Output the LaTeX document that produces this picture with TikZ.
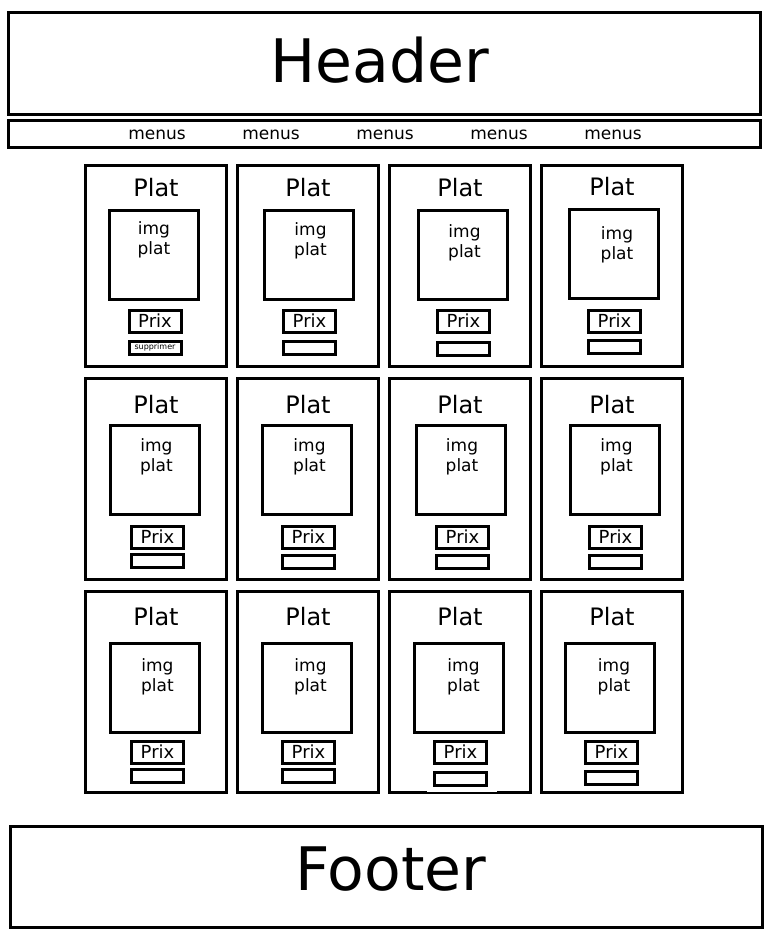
\documentclass[tikz,border=0pt]{standalone}
\usepackage{fontspec}
\setmainfont{DejaVu Sans}

\tikzstyle{every path} = [line width=3pt, black]
\tikzstyle{box} = [draw, line width=3pt, outer sep=0pt, inner sep=0pt, anchor=north west]
\tikzstyle{cardbox} = [box, minimum width=141pt, minimum height=201pt]
\tikzstyle{imgbox} = [box, minimum width=89pt, minimum height=89pt]
\tikzstyle{prixbox} = [box, minimum width=52pt, minimum height=22pt, font=\fontsize{18}{20}\selectfont]
\tikzstyle{btnbox} = [box, minimum width=52pt, minimum height=13.5pt]
\tikzstyle{txt} = [inner sep=0pt, anchor=base]
\tikzstyle{titletxt} = [txt, font=\fontsize{24}{28}\selectfont]
\tikzstyle{imgtxt} = [txt, font=\fontsize{17}{20}\selectfont]

\begin{document}
\begin{tikzpicture}[x=1pt, y=-1pt]
    \useasboundingbox (0,0) rectangle (768,950);

    % Header
    \node[box, minimum width=752pt, minimum height=101pt] (header) at (8,13) {};
    \node[txt, font=\fontsize{60}{72}\selectfont] (headertxt) at (380,82) {Header};

    % Menus
    \node[box, minimum width=752pt, minimum height=27pt] (menubar) at (8,120) {};
    \foreach \m in {1,...,5} {
        \node[txt, font=\fontsize{17}{20}\selectfont] (menu\m) at (43+114*\m,139) {menus};
    }

    % Plats
    \foreach \r/\c/\X/\Y/\i/\v/\p/\w/\b/\t/\d/\e in {
        1/1/85.5/165/24/45/43.5/145/176/31/0/24.5,
        1/2/237.5/165/27/45/46/145/176/31/1.5/25,
        1/3/389.5/165/29/45/48/145/177/31/1.5/27,
        1/4/541.5/165/28/44/47/145/175/30/3/30,
        2/1/85.5/378/25/47/46/148/176/35/1.5/26,
        2/2/237.5/378/25/47/45/148/177/35/2.5/26,
        2/3/389.5/378/27/47/47/148/177/35/1/26,
        2/4/541.5/378/29/47/48/148/177/35/1.5/26,
        3/1/85.5/591/25/52/46/150/178/34/2.5/28,
        3/2/237.5/591/25/52/45/150/178/34/3.5/28,
        3/3/389.5/591/25/52/45/150/181/34/4.5/28,
        3/4/541.5/591/24/52/44/150/180/34/4/28} {
        \node[cardbox] (card-\r-\c) at (\X,\Y) {};
        \node[titletxt] (plat-\r-\c) at (\X+70.5,\Y+\t) {Plat};
        \node[imgbox] (img-\r-\c) at (\X+\i,\Y+\v) {};
        \node[imgtxt] (imgtxt-\r-\c) at (\X+\i+44.5+\d,\Y+\v+\e) {img};
        \node[imgtxt] (imgplat-\r-\c) at (\X+\i+44.5+\d,\Y+\v+\e+20) {plat};
        \node[prixbox] (prix-\r-\c) at (\X+\p,\Y+\w) {Prix};
        \node[btnbox] (btn-\r-\c) at (\X+\p,\Y+\b) {};
    }
    \node[inner sep=0pt, font=\fontsize{8}{9}\selectfont] (suppr) at (btn-1-1) {supprimer};

    % gap in the bottom line of the last row
    \draw[white, line width=1.8pt] (427,791) -- (497,791);

    % Footer
    \node[box, minimum width=752pt, minimum height=101pt] (footer) at (10,826) {};
    \node[txt, font=\fontsize{60}{72}\selectfont] (footertxt) at (391,890) {Footer};
\end{tikzpicture}
\end{document}
